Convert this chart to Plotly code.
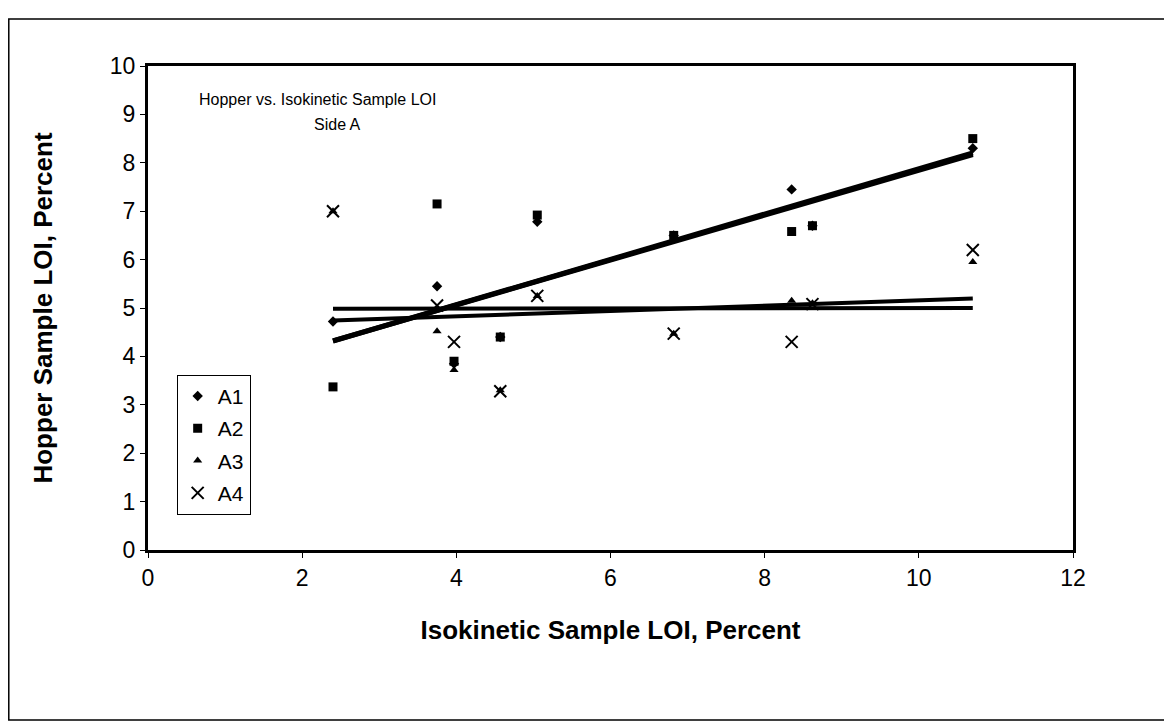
import numpy as np
import plotly.graph_objects as go

# Isokinetic sample LOI (x) and hopper sample LOI for each series
iso_x = [2.4, 3.75, 3.97, 4.57, 5.05, 6.82, 8.35, 8.62, 10.7]
a1 = [4.72, 5.45, 3.85, 4.4, 6.78, 6.5, 7.45, 6.7, 8.3]
a2 = [3.37, 7.15, 3.9, 4.4, 6.92, 6.5, 6.58, 6.7, 8.5]
a3 = [7.0, 4.52, 3.72, 3.3, 5.25, 4.47, 5.15, 5.1, 5.95]
a4 = [7.0, 5.05, 4.3, 3.28, 5.25, 4.47, 4.3, 5.08, 6.2]
series_names = ["A1", "A2", "A3", "A4"]
x_ticks = [0, 2, 4, 6, 8, 10, 12]
y_ticks = list(range(0, 11))

FONT = "Liberation Sans, Arial, sans-serif"
series = [a1, a2, a3, a4]
markers = [
    dict(symbol="diamond", size=8, color="black"),
    dict(symbol="square", size=9, color="black"),
    dict(symbol="triangle-up", size=8, color="black"),
    dict(symbol="x-thin", size=12, color="black", line=dict(width=2, color="black")),
]
line_widths = [5, 5, 4, 4]

fig = go.Figure()
xs = np.array(iso_x)
xfit = np.array([min(iso_x), max(iso_x)])
# trend lines (least squares fits of each series)
for ys, lw in zip(series, line_widths):
    m, b = np.polyfit(xs, np.array(ys), 1)
    fig.add_trace(go.Scatter(x=xfit, y=m * xfit + b, mode="lines",
                             line=dict(color="black", width=lw),
                             showlegend=False, hoverinfo="skip"))
for name, ys, mk in zip(series_names, series, markers):
    fig.add_trace(go.Scatter(x=iso_x, y=ys, mode="markers", name=name,
                             legendgroup=name, marker=mk))

fig.update_layout(
    width=1164, height=715,
    margin=dict(l=140, r=99, t=58, b=173),
    paper_bgcolor="white", plot_bgcolor="white",
    font=dict(family=FONT, color="black", size=20),
    showlegend=True,
    legend=dict(x=0.031, y=0.362, xanchor="left", yanchor="top",
                bgcolor="white", bordercolor="black", borderwidth=1,
                font=dict(size=21, family=FONT), itemsizing="trace",
                tracegroupgap=2, itemwidth=30),
    xaxis=dict(range=[0, 12], tickvals=x_ticks, ticks="outside", ticklen=5,
               tickcolor="black", showgrid=False, zeroline=False,
               showline=True, linecolor="black", linewidth=3, mirror=True,
               tickfont=dict(size=23, family=FONT),
               title=dict(text="<b>Isokinetic Sample LOI, Percent</b>",
                          font=dict(size=26, family=FONT), standoff=32)),
    yaxis=dict(range=[0, 10], tickvals=y_ticks, ticks="outside", ticklen=5,
               tickcolor="black", showgrid=False, zeroline=False,
               showline=True, linecolor="black", linewidth=3, mirror=True,
               tickfont=dict(size=23, family=FONT),
               title=dict(text="<b>Hopper Sample LOI, Percent</b>",
                          font=dict(size=26, family=FONT), standoff=50)),
    annotations=[
        dict(text="Hopper vs. Isokinetic Sample LOI", xref="paper", yref="paper",
             x=0.053, y=0.93, xanchor="left", yanchor="middle", showarrow=False,
             font=dict(size=16, family=FONT)),
        dict(text="Side A", xref="paper", yref="paper",
             x=0.205, y=0.88, xanchor="center", yanchor="middle", showarrow=False,
             font=dict(size=16, family=FONT)),
    ],
    shapes=[
        dict(type="rect", xref="paper", yref="paper", x0=-0.1505, x1=1.1027,
             y0=-0.351, y1=1.097, line=dict(color="black", width=1.5)),
    ],
)

fig.write_html("out.html")
